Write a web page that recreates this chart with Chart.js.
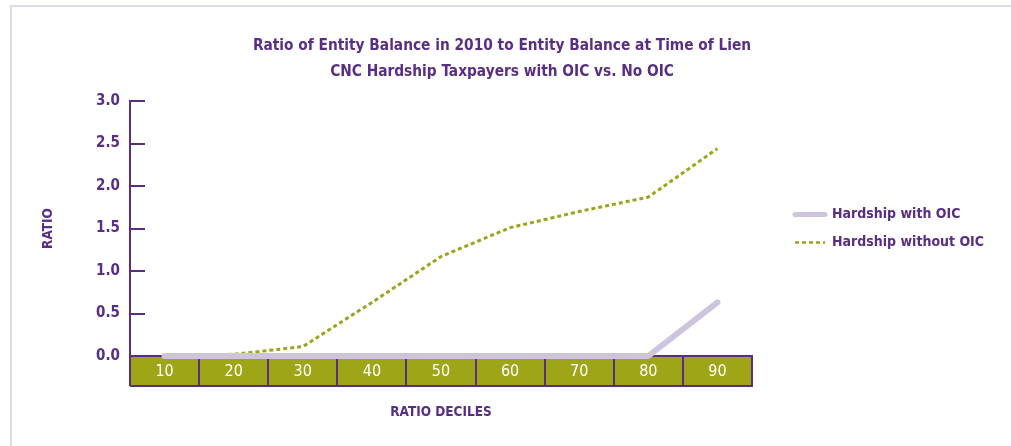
<!DOCTYPE html>
<html>
<head>
<meta charset="utf-8">
<script src="https://cdn.jsdelivr.net/npm/chart.js@4/dist/chart.umd.min.js"></script>
<style>
  html, body { margin: 0; padding: 0; background: #fff; }
  #wrap { position: relative; width: 1011px; height: 446px; overflow: hidden; }
  #frame { position: absolute; left: 10px; top: 5px; right: -10px; bottom: -10px;
           border-top: 2px solid #dcd8ee; border-left: 2px solid #dcd8ee; }
  canvas { position: absolute; left: 0; top: 0; }
</style>
</head>
<body>
<div id="wrap">
  <div id="frame"></div>
  <canvas id="ratioChart" width="1011" height="446"></canvas>
</div>
<script>
// Dados do gráfico
const deciles = ['10', '20', '30', '40', '50', '60', '70', '80', '90'];
const withOic = [0, 0, 0, 0, 0, 0, 0, 0, 0.63];
const withoutOic = [0, 0.02, 0.11, 0.63, 1.17, 1.51, 1.70, 1.87, 2.44];
const yTicks = [0, 0.5, 1.0, 1.5, 2.0, 2.5, 3.0];

const FONT = "'DejaVu Sans Condensed', 'Liberation Sans Narrow', 'Roboto', sans-serif";
const PURPLE = '#5a2d84';
const OLIVE = '#9ea618';

// largura da legenda, para deixar a área do gráfico terminar em x=752
const measure = document.createElement('canvas').getContext('2d');
measure.font = 'bold 14px ' + FONT;
const legendPad = 14;
const legendWidth = legendPad + 30 + 7 + measure.measureText('Hardship without OIC').width;
const spacerWidth = 29;
const padRight = Math.max(0, 1011 - 752 - spacerWidth - legendWidth - 10);

// faixa verde dos decis e marcas internas do eixo y
const decileBand = {
    id: 'decileBand',
    beforeDraw(chart) {
        const {ctx, chartArea} = chart;
        ctx.save();
        ctx.fillStyle = OLIVE;
        ctx.fillRect(chartArea.left, chartArea.bottom, chartArea.right - chartArea.left, 30);
        ctx.strokeStyle = PURPLE;
        ctx.lineWidth = 2;
        ctx.beginPath();
        ctx.moveTo(chartArea.left, chartArea.bottom + 30);
        ctx.lineTo(chartArea.right + 1, chartArea.bottom + 30);
        ctx.stroke();
        ctx.restore();
    },
    beforeDatasetsDraw(chart) {
        const {ctx, chartArea, scales} = chart;
        ctx.save();
        ctx.strokeStyle = PURPLE;
        ctx.lineWidth = 2;
        yTicks.forEach(v => {
            const y = Math.round(scales.y.getPixelForValue(v));
            ctx.beginPath();
            ctx.moveTo(chartArea.left, y);
            ctx.lineTo(chartArea.left + 15, y);
            ctx.stroke();
        });
        ctx.restore();
    }
};

new Chart(document.getElementById('ratioChart'), {
    type: 'line',
    data: {
        labels: deciles,
        datasets: [{
            label: 'Hardship with OIC',
            data: withOic,
            borderColor: '#cdc4e0',
            backgroundColor: '#cdc4e0',
            borderWidth: 6,
            borderCapStyle: 'round',
            borderJoinStyle: 'round',
            pointRadius: 0,
            tension: 0,
            clip: false
        }, {
            label: 'Hardship without OIC',
            data: withoutOic,
            borderColor: '#9ca31d',
            backgroundColor: '#9ca31d',
            borderWidth: 3,
            borderDash: [4, 3],
            pointRadius: 0,
            tension: 0,
            clip: false
        }]
    },
    options: {
        responsive: false,
        animation: false,
        layout: { padding: { left: 10, right: padRight, top: 0, bottom: 15 } },
        plugins: {
            title: {
                display: true,
                text: ['Ratio of Entity Balance in 2010 to Entity Balance at Time of Lien',
                       'CNC Hardship Taxpayers with OIC vs. No OIC'],
                color: PURPLE,
                font: { family: FONT, size: 15.3, weight: 'bold', lineHeight: 1.7 },
                padding: { top: 33, bottom: 16 }
            },
            legend: {
                position: 'right',
                align: 'center',
                fullSize: false,
                maxWidth: 400,
                labels: {
                    usePointStyle: true,
                    pointStyle: 'line',
                    pointStyleWidth: 30,
                    padding: legendPad,
                    color: PURPLE,
                    font: { family: FONT, size: 14, weight: 'bold' },
                    generateLabels(chart) {
                        const items = Chart.defaults.plugins.legend.labels.generateLabels(chart);
                        items.forEach((item, i) => {
                            const ds = chart.data.datasets[i];
                            item.lineDash = ds.borderDash || [];
                            item.lineWidth = i === 0 ? 5 : 2.5;
                            item.lineCap = ds.borderCapStyle || 'butt';
                            item.strokeStyle = ds.borderColor;
                        });
                        return items;
                    }
                }
            },
            tooltip: { enabled: false }
        },
        scales: {
            x: {
                offset: true,
                grid: {
                    offset: true,
                    drawOnChartArea: false,
                    tickLength: 30,
                    color: PURPLE,
                    lineWidth: 2
                },
                border: { color: PURPLE, width: 2 },
                ticks: {
                    color: '#ffffff',
                    padding: -24,
                    font: { family: FONT, size: 16 }
                },
                title: {
                    display: true,
                    text: 'RATIO DECILES',
                    color: PURPLE,
                    font: { family: FONT, size: 13.5, weight: 'bold' },
                    padding: { top: 10, bottom: 10 }
                },
                afterFit(scale) { scale.height = 75; }
            },
            y: {
                min: 0,
                max: 3,
                grid: { drawOnChartArea: false, drawTicks: false },
                border: { color: PURPLE, width: 2 },
                ticks: {
                    stepSize: 0.5,
                    padding: 10,
                    color: PURPLE,
                    font: { family: FONT, size: 15, weight: 'bold' },
                    callback: v => v.toFixed(1)
                },
                title: {
                    display: true,
                    text: 'RATIO',
                    color: PURPLE,
                    font: { family: FONT, size: 13.5, weight: 'bold' },
                    padding: { top: 30, bottom: 0 }
                },
                afterFit(scale) { scale.width = 120; }
            },
            spacer: {
                type: 'linear',
                position: 'right',
                display: true,
                grid: { display: false },
                border: { display: false },
                ticks: { display: false },
                afterFit(scale) { scale.width = spacerWidth; }
            }
        }
    },
    plugins: [decileBand]
});
</script>
</body>
</html>
